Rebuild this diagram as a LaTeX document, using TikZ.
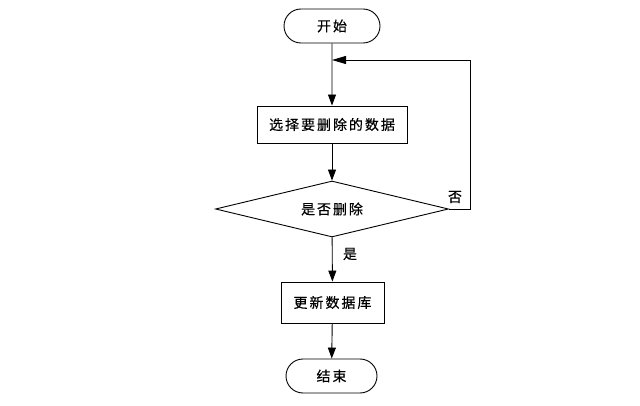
\documentclass[tikz,border=0pt]{standalone}
\usepackage{fontspec}
\newfontfamily\cjk[LetterSpace=14,FakeBold=0.4]{Noto Sans CJK SC}
\usetikzlibrary{arrows.meta,shapes.geometric,shapes.misc,positioning}

\begin{document}
\begin{tikzpicture}[x=1pt, y=-1pt,
  every node/.style={font=\cjk\fontsize{14}{16}\selectfont},
  terminal/.style={draw, rounded rectangle, minimum height=34pt, inner sep=0pt, line width=0.9pt},
  process/.style={draw, rectangle, inner sep=0pt, line width=0.9pt},
  decision/.style={draw, diamond, aspect=4, inner sep=0pt, minimum width=233pt, minimum height=56pt, line width=0.9pt},
  flow/.style={line width=0.9pt, -{Triangle[length=11pt, width=8pt]}}]

\useasboundingbox (0,0) rectangle (640,406);

% Nodes
\node[terminal, minimum width=96pt] (start) at (332,26) {开始};
\node[process, minimum width=150pt, minimum height=37pt] (select) at (332,124.5) {选择要删除的数据};
\node[decision] (ask) at (332,209) {是否删除};
\node[process, minimum width=103pt, minimum height=41pt] (update) at (332.5,302.5) {更新数据库};
\node[terminal, minimum width=91pt] (stop) at (331.5,376) {结束};

% Main flow
\draw[flow] (start) -- (select);
\draw[flow] (select) -- (ask);
\draw[flow] (ask) -- (update);
\draw[flow] (update) -- (stop);

% Loop back
\coordinate (join) at (332,60);
\draw[line width=0.9pt, -{Triangle[length=14pt, width=8pt]}] (ask.east) -- ++(21,0) |- (join);

% Labels
\node (yes) at (350,254) {是};
\node (no) at (455,197) {否};

\end{tikzpicture}
\end{document}
